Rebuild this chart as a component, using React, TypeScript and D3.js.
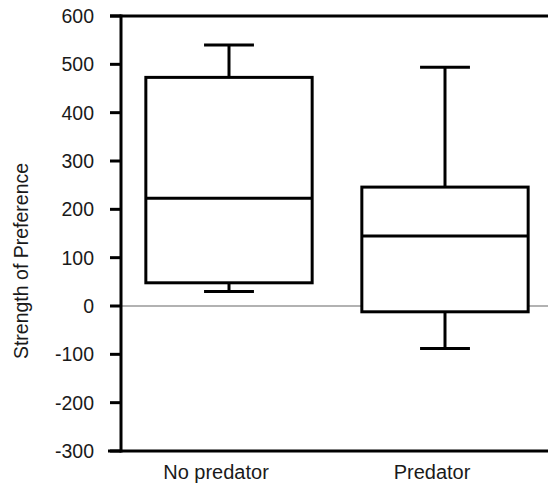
import React from "react";
import * as d3 from "d3";

const categories = ["No predator", "Predator"];
const whiskerLow = [30, -88];
const q1 = [48, -12];
const medians = [223, 145];
const q3 = [473, 246];
const whiskerHigh = [540, 494];
const yTicks = [600, 500, 400, 300, 200, 100, 0, -100, -200, -300];
const yLabel = "Strength of Preference";

const W = 548;
const H = 483;
const FONT = "Arial, 'Liberation Sans', Helvetica, sans-serif";

export default function App() {
  const y = d3.scaleLinear().domain([-300, 600]).range([451, 16]);
  const x = d3.scalePoint<string>().domain(categories).range([121, 553]).padding(0.5);
  const step = x.step();
  const boxW = step * 0.77;
  const capW = boxW * 0.3;
  const axisX = 121;
  const sw = 3;
  const labelShift = -13;

  return (
    <svg
      width={W}
      height={H}
      style={{ position: "absolute", left: 0, top: 0, background: "#fff" }}
      fontFamily={FONT}
    >
      <line x1={axisX} x2={W} y1={y(0)} y2={y(0)} stroke="#999" strokeWidth={1.5} />
      <line x1={110} x2={W} y1={y(600)} y2={y(600)} stroke="#000" strokeWidth={sw} />
      <line x1={108} x2={W} y1={y(-300)} y2={y(-300)} stroke="#000" strokeWidth={sw} />
      <line x1={axisX} x2={axisX} y1={y(600) - 1.5} y2={y(-300) + 1.5} stroke="#000" strokeWidth={sw} />
      {yTicks.map((t) => (
        <g key={t}>
          <line x1={110} x2={axisX} y1={y(t)} y2={y(t)} stroke="#000" strokeWidth={sw} />
          <text
            x={94}
            y={y(t)}
            textAnchor="end"
            dominantBaseline="central"
            fontSize={19.5}
            fill="#1a1a1a"
          >
            {t}
          </text>
        </g>
      ))}
      <text
        transform={`translate(28,${261}) rotate(-90)`}
        textAnchor="middle"
        fontSize={19.5}
        fill="#1a1a1a"
      >
        {yLabel}
      </text>
      {categories.map((c, i) => {
        const cx = x(c) as number;
        return (
          <g key={c} fill="none" stroke="#000" strokeWidth={sw}>
            <line x1={cx} x2={cx} y1={y(whiskerHigh[i])} y2={y(q3[i])} />
            <line x1={cx} x2={cx} y1={y(q1[i])} y2={y(whiskerLow[i])} />
            <line x1={cx - capW / 2} x2={cx + capW / 2} y1={y(whiskerHigh[i])} y2={y(whiskerHigh[i])} />
            <line x1={cx - capW / 2} x2={cx + capW / 2} y1={y(whiskerLow[i])} y2={y(whiskerLow[i])} />
            <rect x={cx - boxW / 2} y={y(q3[i])} width={boxW} height={y(q1[i]) - y(q3[i])} fill="#fff" />
            <line x1={cx - boxW / 2} x2={cx + boxW / 2} y1={y(medians[i])} y2={y(medians[i])} />
            <text
              x={cx + labelShift}
              y={479}
              textAnchor="middle"
              fontSize={20}
              fill="#1a1a1a"
              stroke="none"
            >
              {c}
            </text>
          </g>
        );
      })}
    </svg>
  );
}
